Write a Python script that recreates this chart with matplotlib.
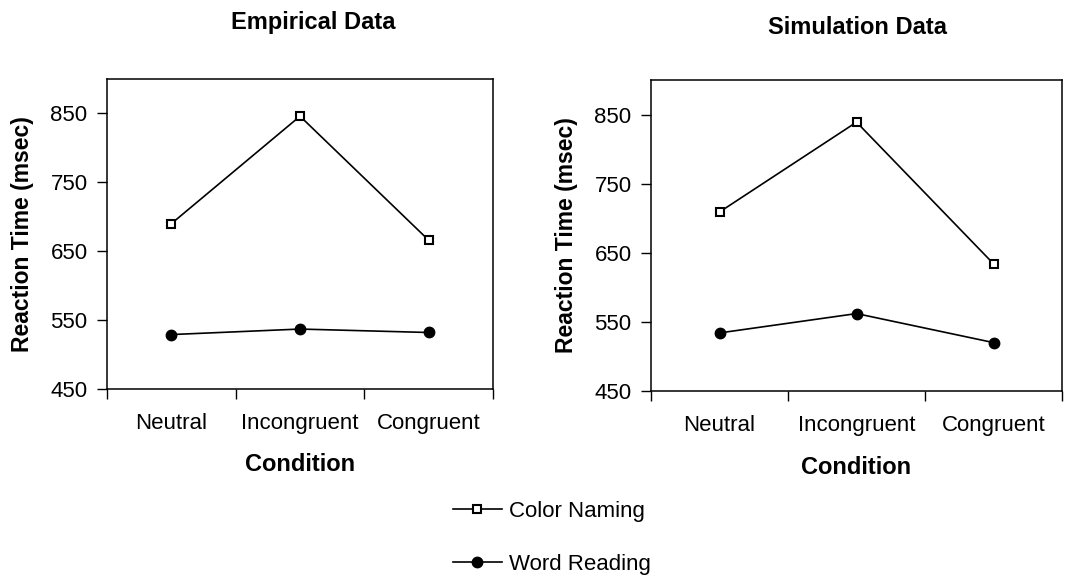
import numpy as np
import matplotlib.pyplot as plt

plt.rcParams['font.family'] = ['Liberation Sans', 'DejaVu Sans']

conditions = ["Neutral", "Incongruent", "Congruent"]

# mean reaction times (msec)
empirical_color = [690, 846, 666]
empirical_word = [529, 537, 532]
simulation_color = [709, 839, 634]
simulation_word = [534, 562, 520]

panel_titles = ["Empirical Data", "Simulation Data"]
y_ticks = [450, 550, 650, 750, 850]

fig = plt.figure(figsize=(10.65, 5.86), dpi=100)
ax1 = fig.add_axes([0.1005, 0.3362, 0.3624, 0.529])
ax2 = fig.add_axes([0.6113, 0.3328, 0.3859, 0.5307])

x = np.arange(len(conditions)) + 0.5

panels = [
    (ax1, empirical_color, empirical_word, -0.19, -0.205),
    (ax2, simulation_color, simulation_word, -0.178, -0.21),
]

for ax, color_vals, word_vals, ylab_x, xlab_y in panels:
    ax.plot(x, color_vals, color='black', lw=1.2, marker='s', ms=6,
            mfc='white', mec='black', mew=1.5, label="Color Naming")
    ax.plot(x, word_vals, color='black', lw=1.2, marker='o', ms=7.5,
            mfc='black', mec='black', label="Word Reading")
    ax.set_xlim(0, 3)
    ax.set_ylim(450, 900)
    ax.set_yticks(y_ticks)
    ax.tick_params(axis='y', direction='out', length=7, width=1, labelsize=16, pad=7)
    # category boundaries get the tick marks, names sit between them
    ax.set_xticks([0, 1, 2, 3])
    ax.set_xticklabels([])
    ax.tick_params(axis='x', which='major', direction='out', length=7, width=1)
    ax.set_xticks(x, minor=True)
    ax.set_xticklabels(conditions, minor=True, fontsize=16)
    ax.tick_params(axis='x', which='minor', length=0, pad=17)
    for sp in ax.spines.values():
        sp.set_linewidth(1.1)
    ax.set_ylabel("Reaction Time (msec)", fontsize=16.5, fontweight='bold')
    ax.yaxis.set_label_coords(ylab_x, 0.5)
    ax.set_xlabel("Condition", fontsize=17, fontweight='bold')
    ax.xaxis.set_label_coords(0.5, xlab_y)

fig.text(313 / 1065, 1 - 23 / 586, panel_titles[0], ha='center', va='center',
         fontsize=17, fontweight='bold')
fig.text(857 / 1065, 1 - 27 / 586, panel_titles[1], ha='center', va='center',
         fontsize=17, fontweight='bold')

handles, labels = ax1.get_legend_handles_labels()
fig.legend(handles, labels, loc='upper center', bbox_to_anchor=(0.518, 1 - 481 / 586),
           frameon=False, fontsize=16, labelspacing=1.42, handlelength=2.2,
           handletextpad=0.3)

fig.savefig("out.png", dpi=100, facecolor='white')
